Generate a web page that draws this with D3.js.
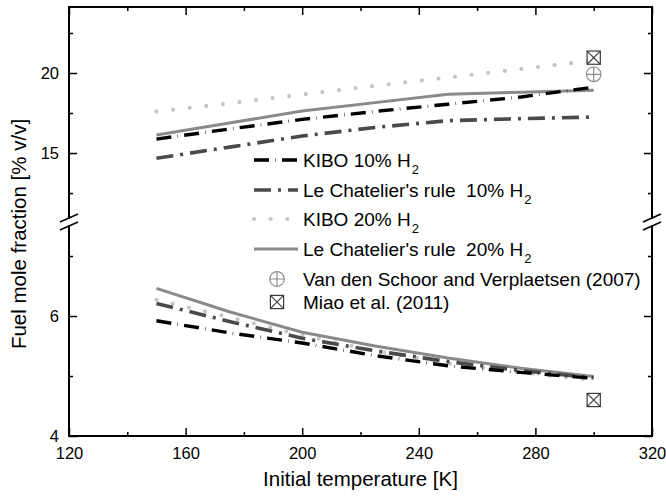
<!DOCTYPE html>
<html>
<head>
  <meta charset="UTF-8">
  <title>Fuel mole fraction vs initial temperature</title>
  <style>
    body { margin: 0; padding: 0; background: #fff; }
    svg { display: block; font-family: "Liberation Sans", Arial, sans-serif; }
    svg text { white-space: pre; }
  </style>
</head>
<body>
  <div id="chart"></div>
  <script src="https://cdnjs.cloudflare.com/ajax/libs/d3/7.8.4/d3.min.js"></script>
  <script>
    // Data
    const temps = [150, 175, 200, 225, 250, 275, 300];

    // upper branch (above the axis break)
    const kibo10Upper = [15.87, 16.5, 17.1, 17.6, 18.05, 18.5, 19.12];
    const chat10Upper = [14.67, 15.37, 16.06, 16.6, 17.02, 17.15, 17.25];
    const kibo20Upper = [17.6, 18.1, 18.65, 19.2, 19.72, 20.25, 20.78];
    const chat20Upper = [16.12, 16.88, 17.62, 18.15, 18.67, 18.8, 18.92];

    // lower branch (below the axis break)
    const kibo10Lower = [5.92, 5.72, 5.55, 5.34, 5.17, 5.06, 4.96];
    const chat10Lower = [6.21, 5.91, 5.63, 5.42, 5.24, 5.09, 4.97];
    const kibo20Lower = [6.27, 5.98, 5.68, 5.42, 5.21, 5.06, 4.93];
    const chat20Lower = [6.46, 6.07, 5.73, 5.50, 5.30, 5.13, 4.99];

    // experimental points
    const schoorPoints = [{ t: 300, v: 19.92, branch: "upper" }];
    const miaoPoints = [{ t: 300, v: 20.96, branch: "upper" }, { t: 300, v: 4.6, branch: "lower" }];

    const xMajor = [120, 160, 200, 240, 280, 320];
    const xMinor = [140, 180, 220, 260, 300];
    const yUpperMajor = [15, 20];
    const yUpperMinor = [12.5, 17.5, 22.5];
    const yLowerMajor = [4, 6];
    const yLowerMinor = [5, 7];

    const width = 666;
    const height = 497;
    const plotLeft = 69, plotRight = 652, plotTop = 7, plotBottom = 436;
    const breakTop = 218, breakBottom = 226;

    const svg = d3.select("#chart").append("svg")
      .attr("width", width)
      .attr("height", height);

    const x = d3.scaleLinear().domain([120, 320]).range([plotLeft, plotRight]);
    const yUp = d3.scaleLinear().domain([10.94, 24.125]).range([breakTop, plotTop]);
    const yLo = d3.scaleLinear().domain([4, 7.5]).range([plotBottom, breakBottom]);

    const series = [
      { name: "KIBO 10% H", up: kibo10Upper, lo: kibo10Lower, color: "#000", w: 3.4, dash: "15 6.25 0.5 6.25", cap: "butt" },
      { name: "Le Chatelier's rule  10% H", up: chat10Upper, lo: chat10Lower, color: "#4a4a4a", w: 3.6, dash: "17 7 3 7", cap: "butt" },
      { name: "KIBO 20% H", up: kibo20Upper, lo: kibo20Lower, color: "#c6c6c6", w: 4.2, dash: "0 16.7", cap: "round" },
      { name: "Le Chatelier's rule  20% H", up: chat20Upper, lo: chat20Lower, color: "#8a8a8a", w: 3, dash: null, cap: "butt" }
    ];

    // draw order: light ones first
    const drawOrder = [2, 3, 1, 0];
    drawOrder.forEach(i => {
      const s = series[i];
      [[s.up, yUp], [s.lo, yLo]].forEach(([vals, y]) => {
        const line = d3.line().x((d, j) => x(temps[j])).y(d => y(d));
        svg.append("path")
          .attr("d", line(vals))
          .attr("fill", "none")
          .attr("stroke", s.color)
          .attr("stroke-width", s.w)
          .attr("stroke-linecap", s.cap)
          .attr("stroke-dasharray", s.dash);
      });
    });

    function circlePlus(g, cx, cy) {
      const r = 7.3;
      g.append("circle").attr("cx", cx).attr("cy", cy).attr("r", r)
        .attr("fill", "none").attr("stroke", "#8c8c8c").attr("stroke-width", 1.2);
      g.append("path").attr("d", `M${cx - r},${cy}H${cx + r}M${cx},${cy - r}V${cy + r}`)
        .attr("stroke", "#8c8c8c").attr("stroke-width", 1.2);
    }

    function squareX(g, cx, cy) {
      const h = 6.6;
      g.append("rect").attr("x", cx - h).attr("y", cy - h).attr("width", 2 * h).attr("height", 2 * h)
        .attr("fill", "#fff").attr("stroke", "#3a3a3a").attr("stroke-width", 1.2);
      g.append("path").attr("d", `M${cx - h},${cy - h}L${cx + h},${cy + h}M${cx + h},${cy - h}L${cx - h},${cy + h}`)
        .attr("stroke", "#3a3a3a").attr("stroke-width", 1.1);
    }

    miaoPoints.forEach(p => squareX(svg, x(p.t), (p.branch === "upper" ? yUp : yLo)(p.v)));
    schoorPoints.forEach(p => circlePlus(svg, x(p.t), (p.branch === "upper" ? yUp : yLo)(p.v)));

    // axes
    function styleAxis(g) {
      g.select(".domain").remove();
      g.selectAll("line").attr("stroke", "#000").attr("stroke-width", 1.5);
      g.selectAll("text").attr("fill", "#000").attr("font-size", "16.5px")
        .attr("font-family", "'Liberation Sans', Arial, sans-serif");
    }

    svg.append("g").attr("transform", `translate(0,${plotBottom})`)
      .call(d3.axisBottom(x).tickValues(xMajor).tickSize(-8).tickPadding(11).tickFormat(d3.format("d")))
      .call(styleAxis);
    svg.append("g").attr("transform", `translate(0,${plotBottom})`)
      .call(d3.axisBottom(x).tickValues(xMinor).tickSize(-4).tickFormat(""))
      .call(styleAxis);
    svg.append("g").attr("transform", `translate(0,${plotTop})`)
      .call(d3.axisTop(x).tickValues(xMajor).tickSize(-8).tickFormat(""))
      .call(styleAxis);
    svg.append("g").attr("transform", `translate(0,${plotTop})`)
      .call(d3.axisTop(x).tickValues(xMinor).tickSize(-4).tickFormat(""))
      .call(styleAxis);

    [[yUp, yUpperMajor, yUpperMinor], [yLo, yLowerMajor, yLowerMinor]].forEach(([y, major, minor]) => {
      svg.append("g").attr("transform", `translate(${plotLeft},0)`)
        .call(d3.axisLeft(y).tickValues(major).tickSize(-8).tickPadding(10).tickFormat(d3.format("d")))
        .call(styleAxis);
      svg.append("g").attr("transform", `translate(${plotLeft},0)`)
        .call(d3.axisLeft(y).tickValues(minor).tickSize(-4).tickFormat(""))
        .call(styleAxis);
      svg.append("g").attr("transform", `translate(${plotRight},0)`)
        .call(d3.axisRight(y).tickValues(major).tickSize(-8).tickFormat(""))
        .call(styleAxis);
      svg.append("g").attr("transform", `translate(${plotRight},0)`)
        .call(d3.axisRight(y).tickValues(minor).tickSize(-4).tickFormat(""))
        .call(styleAxis);
    });

    // frame with the break gap on both vertical sides
    const frame = svg.append("g").attr("stroke", "#000").attr("stroke-width", 2).attr("fill", "none");
    frame.append("path").attr("d",
      `M${plotLeft},${breakTop}V${plotTop}H${plotRight}V${breakTop}` +
      `M${plotLeft},${breakBottom}V${plotBottom}H${plotRight}V${breakBottom}`)
      .attr("stroke-linecap", "square");
    [plotLeft, plotRight].forEach(ax => {
      [breakTop, breakBottom].forEach(by => {
        frame.append("line")
          .attr("x1", ax - 9).attr("y1", by + 4)
          .attr("x2", ax + 9).attr("y2", by - 4)
          .attr("stroke-width", 1.6);
      });
    });

    // axis titles
    svg.append("text")
      .attr("x", (plotLeft + plotRight) / 2).attr("y", 486)
      .attr("text-anchor", "middle").attr("font-size", "20.5px")
      .text("Initial temperature [K]");
    svg.append("text")
      .attr("transform", "translate(26,234) rotate(-90)")
      .attr("text-anchor", "middle").attr("font-size", "20.5px")
      .text("Fuel mole fraction [% v/v]");

    // legend
    const legendRows = [160, 190, 219, 249];
    const lg = svg.append("g");
    series.forEach((s, i) => {
      const cy = legendRows[i];
      lg.append("line")
        .attr("x1", 254).attr("x2", 298).attr("y1", cy).attr("y2", cy)
        .attr("stroke", s.color).attr("stroke-width", s.w)
        .attr("stroke-linecap", s.cap).attr("stroke-dasharray", s.dash);
      const t = lg.append("text").attr("x", 303).attr("y", cy + 6.5).attr("font-size", "19px");
      t.append("tspan").text(s.name);
      t.append("tspan").attr("font-size", "13px").attr("dx", 1).attr("dy", 7).text("2");
    });
    circlePlus(lg, 277, 279);
    lg.append("text").attr("x", 303).attr("y", 285.5).attr("font-size", "19px")
      .text("Van den Schoor and Verplaetsen (2007)");
    squareX(lg, 277, 302);
    lg.append("text").attr("x", 303).attr("y", 308.5).attr("font-size", "19px")
      .text("Miao et al. (2011)");
  </script>
</body>
</html>
